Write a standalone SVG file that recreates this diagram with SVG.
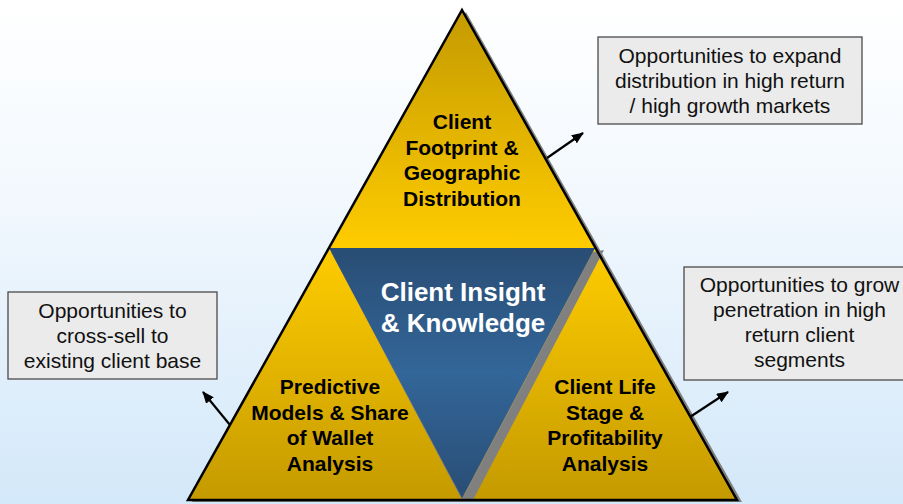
<svg xmlns="http://www.w3.org/2000/svg" width="903" height="504" viewBox="0 0 903 504">
<style>
.tl{font-family:"Liberation Sans",Arial,sans-serif;font-weight:bold;font-size:21px;fill:#000;text-anchor:middle}
.cl{font-family:"Liberation Sans",Arial,sans-serif;font-weight:bold;font-size:26px;fill:#fff;text-anchor:middle}
.bx{fill:#ebebeb;stroke:#4a4a4a;stroke-width:1.3}
.bt{font-family:"Liberation Sans",Arial,sans-serif;font-size:21px;fill:#111;text-anchor:middle}
.cn{stroke:#000;stroke-width:2.2;fill:none}
</style>
<defs>
<linearGradient id="bg" x1="0" y1="0" x2="0" y2="1">
<stop offset="0" stop-color="#ffffff"/>
<stop offset="0.35" stop-color="#f4f9fe"/>
<stop offset="1" stop-color="#d3e8f9"/>
</linearGradient>
<linearGradient id="ytop" gradientUnits="userSpaceOnUse" x1="0" y1="10" x2="0" y2="248">
<stop offset="0" stop-color="#c49a00"/>
<stop offset="1" stop-color="#ffcc00"/>
</linearGradient>
<linearGradient id="ybot" gradientUnits="userSpaceOnUse" x1="0" y1="248" x2="0" y2="500">
<stop offset="0" stop-color="#ffcc00"/>
<stop offset="1" stop-color="#c49a00"/>
</linearGradient>
<linearGradient id="blue" gradientUnits="userSpaceOnUse" x1="0" y1="248" x2="0" y2="498">
<stop offset="0" stop-color="#294d74"/>
<stop offset="0.5" stop-color="#336699"/>
<stop offset="1" stop-color="#294d74"/>
</linearGradient>
<marker id="ah" markerUnits="userSpaceOnUse" markerWidth="12" markerHeight="10" refX="11" refY="5" orient="auto">
<path d="M0,0 L12,5 L0,10 z" fill="#000"/>
</marker>
</defs>
<rect x="0" y="0" width="903" height="504" fill="url(#bg)"/>
<polygon points="466,12 742,502 192,502" fill="#808080"/>
<g id="tri-top">
<polygon points="462,10 329,248 595,248" fill="url(#ytop)"/>
<text class="tl" x="462" y="129">Client</text>
<text class="tl" x="462" y="155">Footprint &amp;</text>
<text class="tl" x="462" y="180">Geographic</text>
<text class="tl" x="462" y="206">Distribution</text>
</g>
<g id="tri-left">
<polygon points="329,248 188,500 462,500" fill="url(#ybot)"/>
<text class="tl" x="330" y="394">Predictive</text>
<text class="tl" x="330" y="420">Models &amp; Share</text>
<text class="tl" x="330" y="445">of Wallet</text>
<text class="tl" x="330" y="471">Analysis</text>
</g>
<g id="tri-right">
<polygon points="595,248 462,500 737,500" fill="url(#ybot)"/>
<text class="tl" x="605" y="394">Client Life</text>
<text class="tl" x="605" y="420">Stage &amp;</text>
<text class="tl" x="605" y="445">Profitability</text>
<text class="tl" x="605" y="471">Analysis</text>
</g>
<g id="tri-center">
<polygon points="593,252 604,250 473,500 462,500" fill="#808080"/>
<polygon points="329,248 595,248 462,498" fill="url(#blue)"/>
<text class="cl" x="463" y="301">Client Insight</text>
<text class="cl" x="463" y="332">&amp; Knowledge</text>
</g>
<polygon points="462,10 737,500 188,500" fill="none" stroke="#000" stroke-width="2.5" stroke-linejoin="miter"/>
<g id="box-expand">
<rect class="bx" x="598" y="37" width="264" height="87"/>
<text class="bt" x="730" y="63">Opportunities to expand</text>
<text class="bt" x="730" y="88">distribution in high return</text>
<text class="bt" x="730" y="113">/ high growth markets</text>
</g>
<g id="box-crosssell">
<rect class="bx" x="8" y="292" width="209" height="87"/>
<text class="bt" x="112.5" y="318">Opportunities to</text>
<text class="bt" x="112.5" y="343">cross-sell to</text>
<text class="bt" x="112.5" y="368">existing client base</text>
</g>
<g id="box-grow">
<rect class="bx" x="684" y="267" width="231" height="113"/>
<text class="bt" x="799.5" y="292">Opportunities to grow</text>
<text class="bt" x="799.5" y="317">penetration in high</text>
<text class="bt" x="799.5" y="342">return client</text>
<text class="bt" x="799.5" y="367">segments</text>
</g>
<g id="connectors">
<line class="cn" x1="547" y1="158" x2="583" y2="133" marker-end="url(#ah)"/>
<line class="cn" x1="230" y1="425" x2="203" y2="392" marker-end="url(#ah)"/>
<line class="cn" x1="690" y1="417" x2="728" y2="392" marker-end="url(#ah)"/>
</g>
</svg>
